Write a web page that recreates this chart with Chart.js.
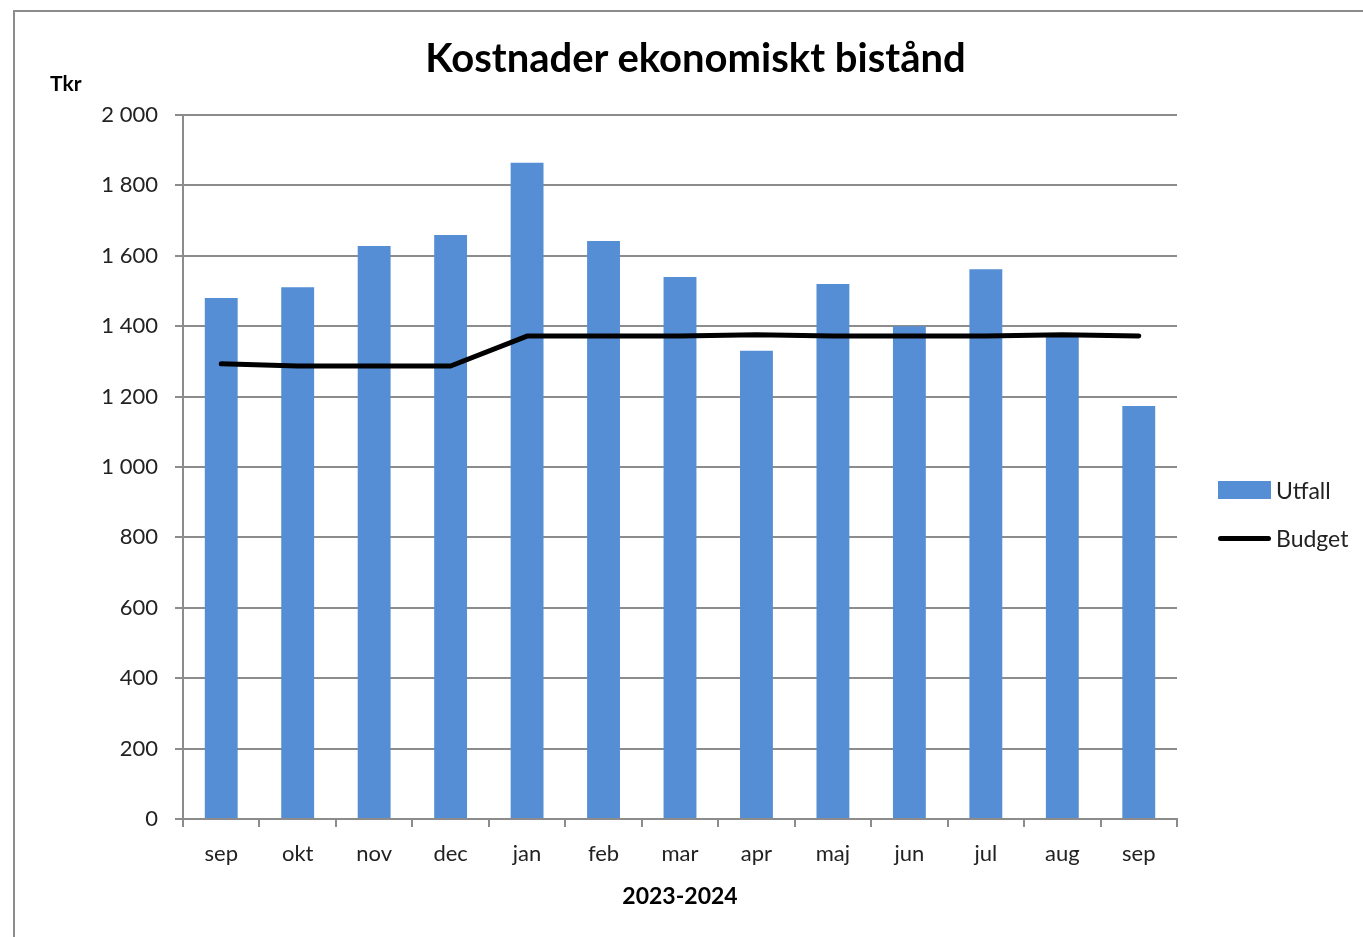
<!DOCTYPE html>
<html>
<head>
<meta charset="utf-8">
<script src="https://cdn.jsdelivr.net/npm/chart.js@4"></script>
<style>
  body { margin: 0; background: #fff; font-family: Lato, "Open Sans", sans-serif; }
  #wrap { position: relative; width: 1363px; height: 937px; overflow: hidden; }
  #frame { position: absolute; left: 13px; top: 10px; width: 1400px; height: 1000px; border: 2px solid #8c8c8c; box-sizing: border-box; }
  canvas { position: absolute; left: 0; top: 0; }
  .txt { position: absolute; color: #000; white-space: nowrap; }
  #title { left: 0; width: 1391px; top: 33px; text-align: center; font-weight: bold; font-size: 40px; }
  #unit { left: 50px; top: 70px; font-weight: bold; font-size: 21px; }
  .leg { position: absolute; left: 1218px; font-size: 23px; color: #222; }
  .sw-bar { position: absolute; left: 0; width: 53px; height: 18px; background: #558ed5; }
  .sw-line { position: absolute; left: 0; width: 53px; height: 5px; background: #000; border-radius: 3px; }
  .leg span { position: absolute; left: 58px; }
</style>
</head>
<body>
<div id="wrap">
  <div id="frame"></div>
  <canvas id="chart" width="1363" height="937"></canvas>
  <div class="txt" id="title">Kostnader ekonomiskt bistånd</div>
  <div class="txt" id="unit">Tkr</div>
  <div class="leg" style="top:476px">
    <div class="sw-bar" style="top:5px"></div><span>Utfall</span>
  </div>
  <div class="leg" style="top:524px">
    <div class="sw-line" style="top:12px"></div><span>Budget</span>
  </div>
</div>
<script>
const months = ['sep', 'okt', 'nov', 'dec', 'jan', 'feb', 'mar', 'apr', 'maj', 'jun', 'jul', 'aug', 'sep']
const utfall = [1480, 1511, 1628, 1659, 1864, 1642, 1540, 1330, 1520, 1400, 1562, 1375, 1173]
const budget = [1293, 1287, 1287, 1287, 1372, 1372, 1372, 1376, 1372, 1372, 1372, 1376, 1372]
const yTicks = [0, 200, 400, 600, 800, 1000, 1200, 1400, 1600, 1800, 2000]

const fmt = v => v >= 1000 ? Math.floor(v / 1000) + ' ' + String(v % 1000).padStart(3, '0') : String(v)

const ctx = document.getElementById('chart')
new Chart(ctx, {
  type: 'bar',
  data: {
    labels: months,
    datasets: [
      {
        type: 'line',
        label: 'Budget',
        data: budget,
        borderColor: '#000',
        borderWidth: 5,
        borderCapStyle: 'round',
        borderJoinStyle: 'round',
        pointRadius: 0,
        tension: 0,
        order: 0
      },
      {
        label: 'Utfall',
        data: utfall,
        backgroundColor: '#558ed5',
        categoryPercentage: 1,
        barPercentage: 0.43,
        order: 1
      }
    ]
  },
  options: {
    responsive: false,
    animation: false,
    layout: { padding: { left: 0, top: 115, right: 186, bottom: 23 } },
    plugins: { legend: { display: false }, tooltip: { enabled: false } },
    scales: {
      x: {
        grid: { offset: true, drawOnChartArea: false, drawTicks: true, tickLength: 8, color: '#8c8c8c', lineWidth: 2 },
        border: { color: '#8c8c8c', width: 2 },
        ticks: { color: '#222', font: { family: 'Lato', size: 22 }, padding: 14, maxRotation: 0 },
        title: { display: true, text: '2023-2024', color: '#000', font: { family: 'Lato', size: 23, weight: 'bold' }, padding: { top: 10 } },
        afterFit: s => { s.height = 95 }
      },
      y: {
        min: 0,
        max: 2000,
        afterBuildTicks: s => { s.ticks = yTicks.map(v => ({ value: v })) },
        grid: { color: '#8c8c8c', lineWidth: 2, tickLength: 8 },
        border: { color: '#8c8c8c', width: 2 },
        ticks: { color: '#222', font: { family: 'Lato', size: 22 }, padding: 17, callback: v => fmt(v) },
        afterFit: s => { s.width = 183 }
      }
    }
  }
})
</script>
</body>
</html>
